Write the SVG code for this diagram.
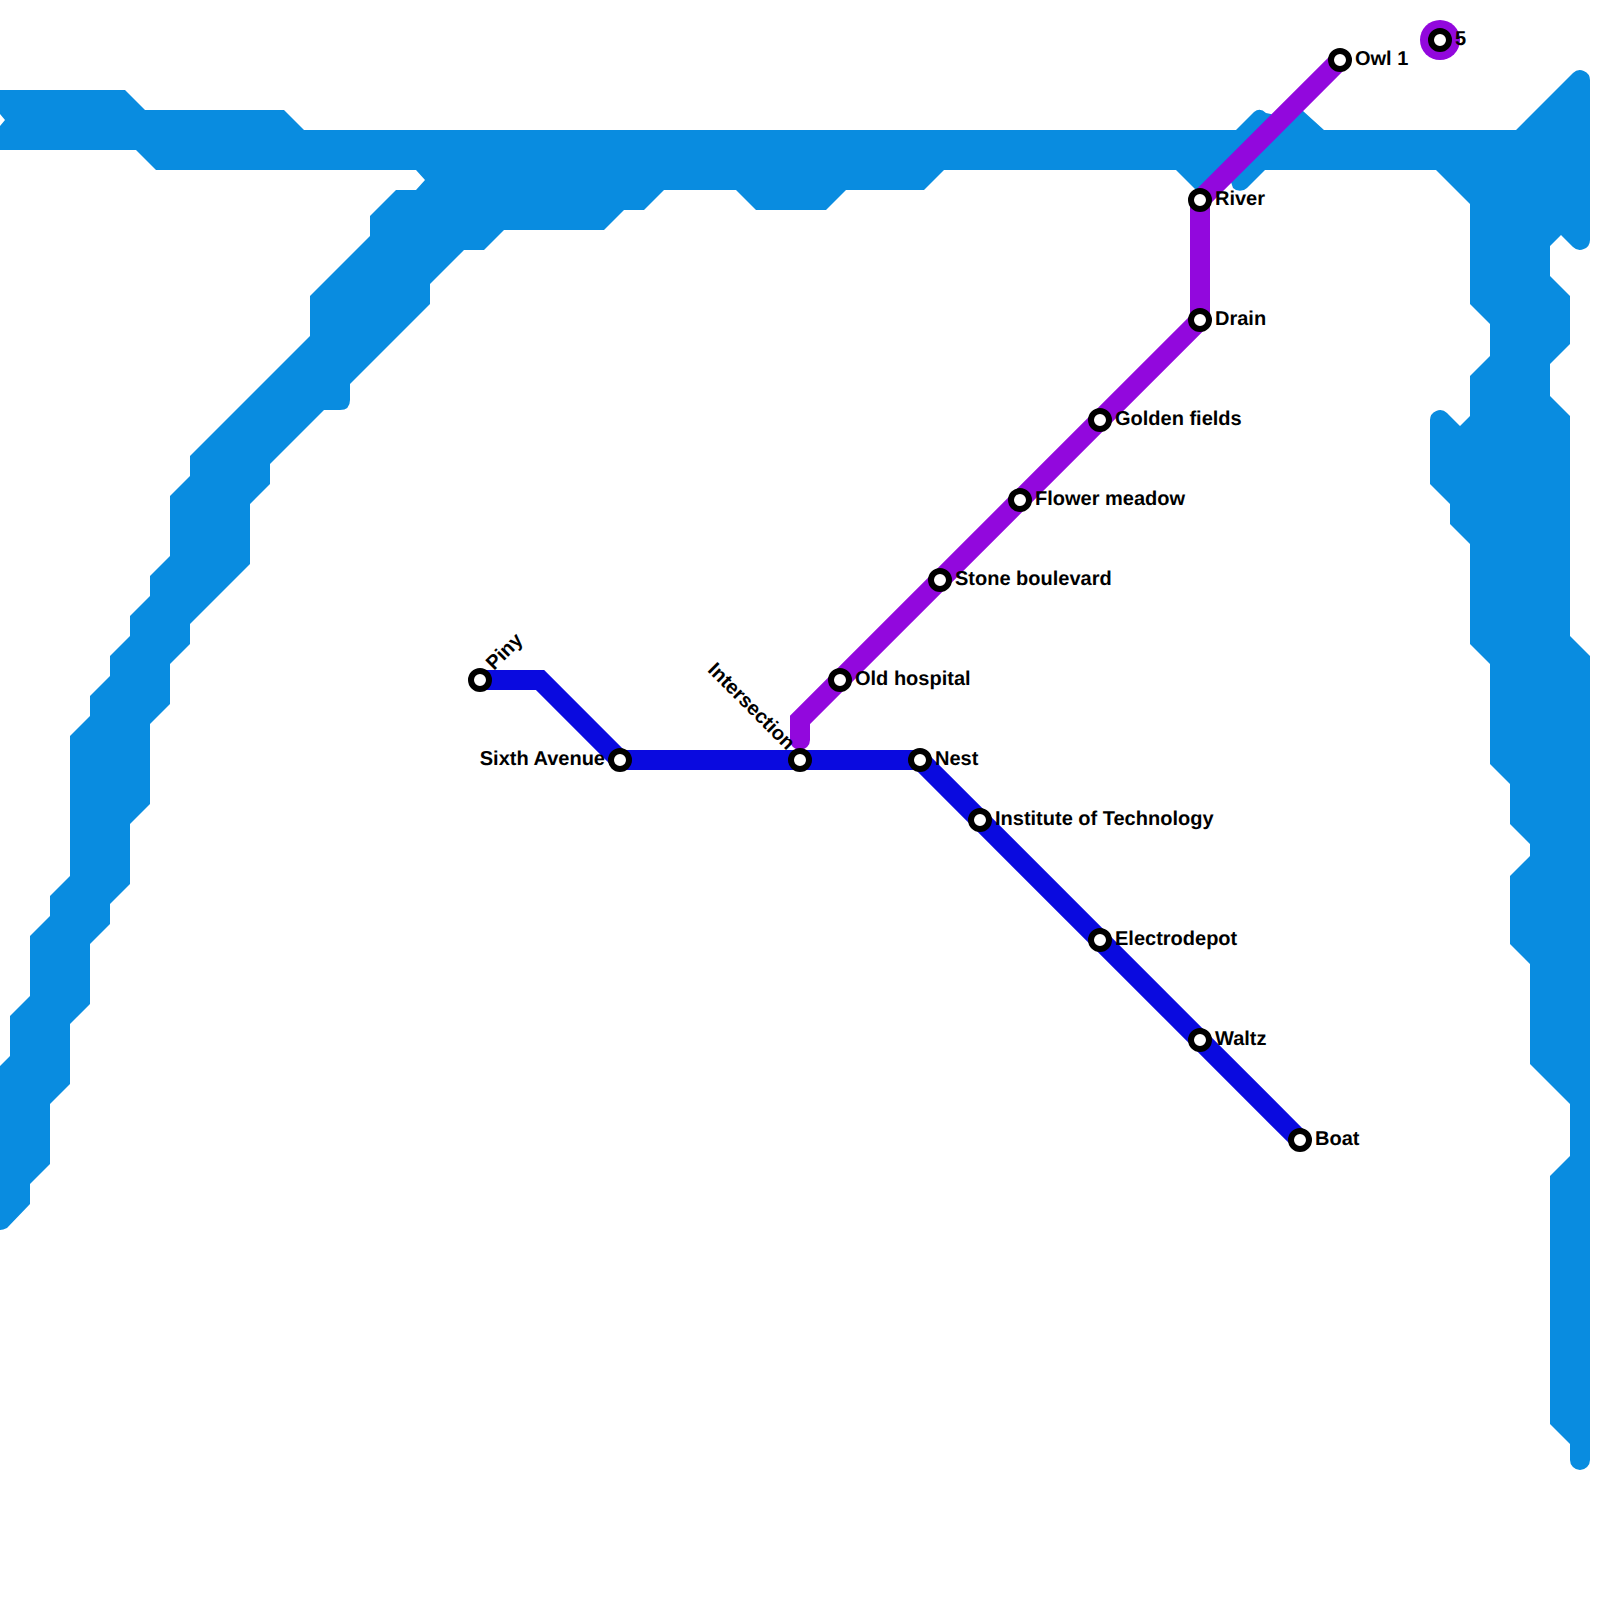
<svg xmlns="http://www.w3.org/2000/svg" width="1600" height="1600" viewBox="0 0 1600 1600">
<style>
.st{fill:#fff;stroke:#000;stroke-width:6}
.lb{font-family:"Liberation Sans",Arial,sans-serif;font-weight:700;font-size:20px;fill:#000;text-rendering:geometricPrecision}
.ln{fill:none;stroke-width:20;stroke-linejoin:miter;stroke-linecap:round}
</style>
<rect width="1600" height="1600" fill="#fff"/>
<g id="connectors">
<path id="river" fill="#098ce0" d="M0 90L125 90L145 110L284 110L304 130L1236 130L1254 112Q1260 107 1266 113L1275 115L1300 108L1303 111L1324 130L1516 130L1573 73A10 10 0 0 1 1590 80L1590 240A10 10 0 0 1 1573 247L1561 235L1550 246L1550 276L1570 296L1570 344L1550 364L1550 396L1570 416L1570 636L1590 656L1590 1460A10 10 0 0 1 1570 1460L1570 1444L1550 1424L1550 1176L1570 1156L1570 1104L1530 1064L1530 964L1510 944L1510 876L1530 856L1530 844L1510 824L1510 784L1490 764L1490 664L1470 644L1470 544L1450 524L1450 504L1430 484L1430 420A10 10 0 0 1 1447 413L1460 426L1470 416L1470 376L1490 356L1490 324L1470 304L1470 204L1436 170L1265 170L1247 188A10 10 0 0 1 1233 188L1231 182L1205 188L1196 190L1176 170L944 170L924 190L846 190L826 210L756 210L736 190L664 190L644 210L624 210L604 230L504 230L484 250L464 250L430 284L430 304L350 384L350 400Q350 410 340 410L324 410L270 464L270 484L250 504L250 564L190 624L190 644L170 664L170 704L150 724L150 804L130 824L130 884L110 904L110 924L90 944L90 1004L70 1024L70 1084L50 1104L50 1164L30 1184L30 1204L7 1228Q3 1230 0 1230L0 1066L10 1056L10 1016L30 996L30 936L50 916L50 896L70 876L70 736L90 716L90 696L110 676L110 656L130 636L130 616L150 596L150 576L170 556L170 496L190 476L190 456L310 336L310 296L370 236L370 216L396 190L416 190L425 180L416 170L156 170L136 150L0 150L0 126L5 120L0 114Z"/>
<path id="line-purple" class="ln" stroke="#9208dd" d="M800 740V720L1200 320V200L1340 60"/>
<path id="line-blue" class="ln" stroke="#0a0adf" d="M480 680H540L620 760H920L1300 1140"/>
<circle id="line-purple-single" cx="1440" cy="40" r="20" fill="#9208dd"/>
</g>
<g id="piny"><circle class="st" cx="480" cy="680" r="9"/><text class="lb" transform="translate(494 671) rotate(-45)">Piny</text></g>
<g id="sixth-avenue"><circle class="st" cx="620" cy="760" r="9"/><text class="lb" x="605" y="765" text-anchor="end">Sixth Avenue</text></g>
<g id="intersection"><circle class="st" cx="800" cy="760" r="9"/><text class="lb" transform="translate(787 751) rotate(45)" text-anchor="end">Intersection</text></g>
<g id="nest"><circle class="st" cx="920" cy="760" r="9"/><text class="lb" x="935" y="765">Nest</text></g>
<g id="institute"><circle class="st" cx="980" cy="820" r="9"/><text class="lb" x="995" y="825">Institute of Technology</text></g>
<g id="electrodepot"><circle class="st" cx="1100" cy="940" r="9"/><text class="lb" x="1115" y="945">Electrodepot</text></g>
<g id="waltz"><circle class="st" cx="1200" cy="1040" r="9"/><text class="lb" x="1215" y="1045">Waltz</text></g>
<g id="boat"><circle class="st" cx="1300" cy="1140" r="9"/><text class="lb" x="1315" y="1145">Boat</text></g>
<g id="old-hospital"><circle class="st" cx="840" cy="680" r="9"/><text class="lb" x="855" y="685">Old hospital</text></g>
<g id="stone-boulevard"><circle class="st" cx="940" cy="580" r="9"/><text class="lb" x="955" y="585">Stone boulevard</text></g>
<g id="flower-meadow"><circle class="st" cx="1020" cy="500" r="9"/><text class="lb" x="1035" y="505">Flower meadow</text></g>
<g id="golden-fields"><circle class="st" cx="1100" cy="420" r="9"/><text class="lb" x="1115" y="425">Golden fields</text></g>
<g id="drain"><circle class="st" cx="1200" cy="320" r="9"/><text class="lb" x="1215" y="325">Drain</text></g>
<g id="station-river"><circle class="st" cx="1200" cy="200" r="9"/><text class="lb" x="1215" y="205">River</text></g>
<g id="owl-1"><circle class="st" cx="1340" cy="60" r="9"/><text class="lb" x="1355" y="65">Owl 1</text></g>
<g id="five"><circle class="st" cx="1440" cy="40" r="9"/><text class="lb" x="1455" y="45">5</text></g>
</svg>
